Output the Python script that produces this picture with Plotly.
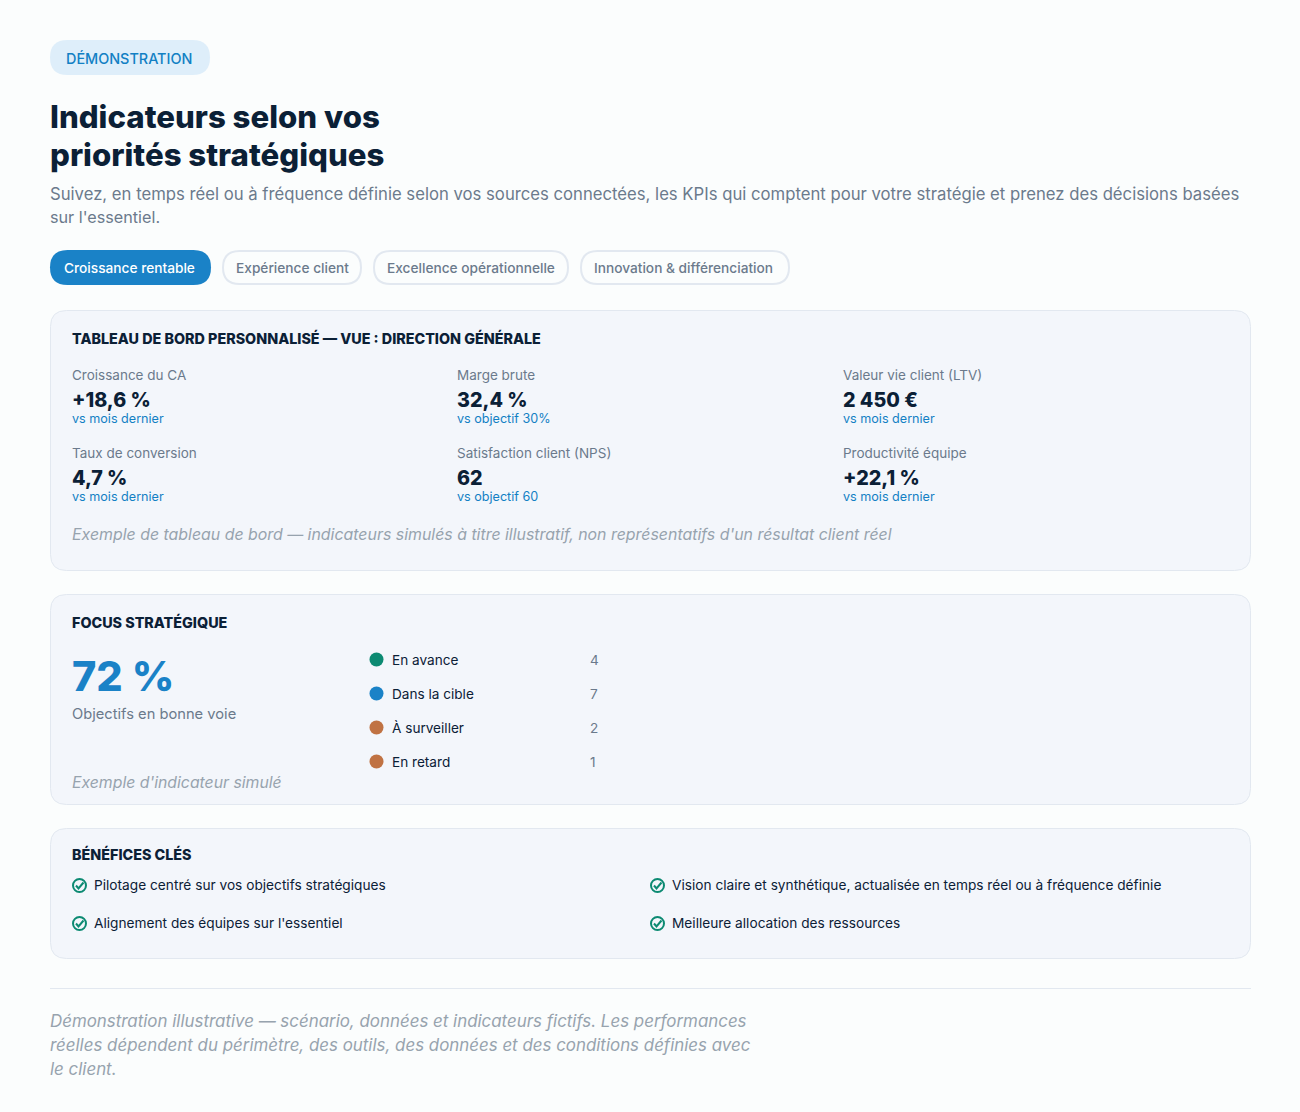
import plotly.graph_objects as go

FONT = "Inter"
NAVY = "#0b2036"
BLUE = "#1a82c7"
LINK = "#1280c4"
GREY = "#6b7a8c"
SOFT = "#97a3ae"
GREEN = "#0c8a72"
ORANGE = "#c07243"
CARD = "#f3f6fb"
EDGE = "#e2e8f0"

# Chart data
badge = "DÉMONSTRATION"
title_lines = ["Indicateurs selon vos", "priorités stratégiques"]
intro_lines = [
    "Suivez, en temps réel ou à fréquence définie selon vos sources connectées, les KPIs qui comptent pour votre stratégie et prenez des décisions basées",
    "sur l'essentiel.",
]
tabs = ["Croissance rentable", "Expérience client", "Excellence opérationnelle", "Innovation & différenciation"]

kpi_names = ["Croissance du CA", "Marge brute", "Valeur vie client (LTV)",
             "Taux de conversion", "Satisfaction client (NPS)", "Productivité équipe"]
kpi_values = ["+18,6 %", "32,4 %", "2 450 €", "4,7 %", "62", "+22,1 %"]
kpi_notes = ["vs mois dernier", "vs objectif 30%", "vs mois dernier",
             "vs mois dernier", "vs objectif 60", "vs mois dernier"]

focus_value = "72 %"
status_names = ["En avance", "Dans la cible", "À surveiller", "En retard"]
status_counts = [4, 7, 2, 1]

benefits = ["Pilotage centré sur vos objectifs stratégiques",
            "Vision claire et synthétique, actualisée en temps réel ou à fréquence définie",
            "Alignement des équipes sur l'essentiel",
            "Meilleure allocation des ressources"]

footer_lines = [
    "Démonstration illustrative — scénario, données et indicateurs fictifs. Les performances",
    "réelles dépendent du périmètre, des outils, des données et des conditions définies avec",
    "le client.",
]

fig = go.Figure()


# Rounded box in page pixels
def box(x0, y0, x1, y1, r, fill, line=None, width=1):
    path = (
        f"M {x0 + r} {y0} L {x1 - r} {y0} Q {x1} {y0} {x1} {y0 + r} "
        f"L {x1} {y1 - r} Q {x1} {y1} {x1 - r} {y1} "
        f"L {x0 + r} {y1} Q {x0} {y1} {x0} {y1 - r} "
        f"L {x0} {y0 + r} Q {x0} {y0} {x0 + r} {y0} Z"
    )
    fig.add_shape(type="path", path=path, fillcolor=fill,
                  line=dict(color=line or fill, width=width if line else 0), layer="below")


# Text anchored on its vertical middle
def label(x, y, text, size, color, weight=400, style="normal", anchor="left"):
    fig.add_annotation(x=x, y=y, text=text, showarrow=False, xanchor=anchor, yanchor="middle",
                       align="left", borderpad=0, borderwidth=0,
                       font=dict(family=FONT, size=size, color=color, weight=weight, style=style))


# Header
box(50, 40, 210, 75, 17.5, "#deeefa")
label(66, 58, badge, 14.4, LINK, 500)
label(50, 117, title_lines[0], 31.2, NAVY, 800)
label(50, 155, title_lines[1], 31.2, NAVY, 800)
label(50, 193.5, intro_lines[0], 16.7, GREY)
label(50, 217, intro_lines[1], 16.2, GREY)

# Tabs
tab_edges = [(50, 211), (222, 362), (373, 569), (580, 790)]
for i, (name, (x0, x1)) in enumerate(zip(tabs, tab_edges)):
    if i == 0:
        box(x0, 250, x1, 285, 17.5, BLUE)
    else:
        box(x0 + 1, 251, x1 - 1, 284, 16.5, "#fbfdfd", EDGE, 2)
    label(x0 + 14, 268, name, 13.7, "#ffffff" if i == 0 else GREY, 500)

# Dashboard card
box(50.5, 310.5, 1250.5, 570.5, 16, CARD, EDGE)
label(72, 338, "TABLEAU DE BORD PERSONNALISÉ — VUE : DIRECTION GÉNÉRALE", 14.35, NAVY, 800)
kpi_x = [72, 457, 843]
kpi_y = [375, 453]
for i in range(len(kpi_names)):
    x = kpi_x[i % 3]
    y = kpi_y[i // 3]
    label(x, y, kpi_names[i], 13.5, GREY)
    label(x, y + 25, kpi_values[i], 19.7, NAVY, 800)
    label(x, y + 43.5, kpi_notes[i], 12.6, LINK)
label(72, 534.5, "Exemple de tableau de bord — indicateurs simulés à titre illustratif, non représentatifs d'un résultat client réel",
      15.9, SOFT, style="italic")

# Focus card
box(50.5, 594.5, 1250.5, 804.5, 16, CARD, EDGE)
label(72, 622, "FOCUS STRATÉGIQUE", 14.35, NAVY, 800)
label(72, 676, focus_value, 41.4, BLUE, 800)
label(72, 713.5, "Objectifs en bonne voie", 14.7, GREY)
label(72, 782.5, "Exemple d'indicateur simulé", 15.8, SOFT, style="italic")

status_y = [659.5, 693.5, 727.5, 761.5]
fig.add_trace(go.Scatter(
    x=[376.5] * len(status_names), y=status_y, mode="markers",
    marker=dict(size=14, color=[GREEN, BLUE, ORANGE, ORANGE], line_width=0),
    hoverinfo="skip", showlegend=False,
))
for name, count, y in zip(status_names, status_counts, status_y):
    label(392, y, name, 13.6, NAVY)
    label(590, y, str(count), 13.6, GREY)

# Benefits card
box(50.5, 828.5, 1250.5, 958.5, 16, CARD, EDGE)
label(72, 854, "BÉNÉFICES CLÉS", 14.35, NAVY, 800)
ben_x = [79.5, 657.5, 79.5, 657.5]
ben_y = [885.5, 885.5, 923.5, 923.5]
fig.add_trace(go.Scatter(
    x=ben_x, y=ben_y, mode="markers",
    marker=dict(size=13, color="rgba(0,0,0,0)", line=dict(color=GREEN, width=2)),
    hoverinfo="skip", showlegend=False,
))
for text, x, y in zip(benefits, ben_x, ben_y):
    # check mark inside the ring
    fig.add_shape(type="path", path=f"M {x - 3.5} {y} L {x - 1} {y + 3} L {x + 4} {y - 3}",
                  line=dict(color=GREEN, width=2))
    label(x + 14.5, y - 0.5, text, 13.7, NAVY)

# Footer
fig.add_shape(type="line", x0=50, x1=1251, y0=988.5, y1=988.5, line=dict(color=EDGE, width=1))
for y, line in zip([1021, 1045, 1069], footer_lines):
    label(50, y, line, 16.9, SOFT, style="italic")

fig.update_xaxes(range=[0, 1300], visible=False, fixedrange=True)
fig.update_yaxes(range=[1112, 0], visible=False, fixedrange=True)
fig.update_layout(
    width=1300, height=1112, margin=dict(l=0, r=0, t=0, b=0),
    paper_bgcolor="#fbfdfd", plot_bgcolor="#fbfdfd", font_family=FONT,
)

fig.write_html("out.html", config={"displayModeBar": False},
               post_script="document.body.style.margin='0';document.body.style.overflow='hidden';")
